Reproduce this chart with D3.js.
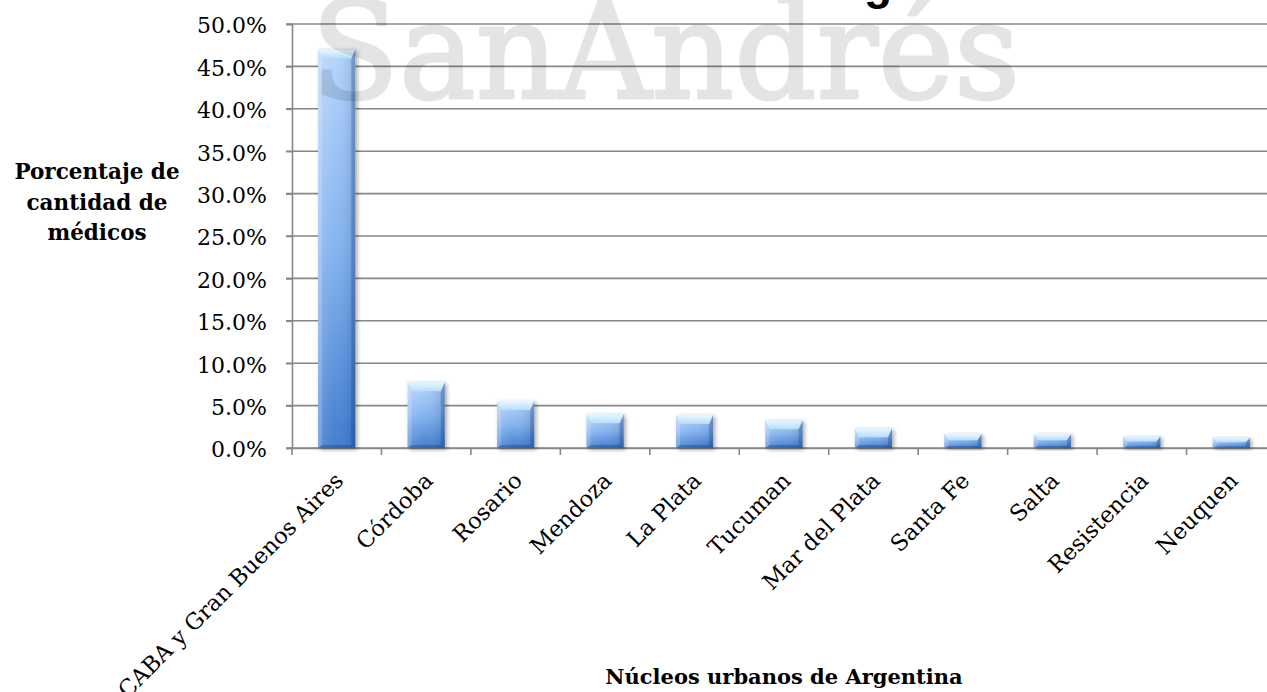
<!DOCTYPE html>
<html>
<head>
<meta charset="utf-8">
<script src="https://cdn.jsdelivr.net/npm/d3@7"></script>
<style>
  html, body { margin: 0; padding: 0; background: #ffffff; overflow: hidden; }
  svg { display: block; }
</style>
</head>
<body>
<svg id="chart" width="1267" height="692"></svg>
<script>
// Núcleos urbanos y su porcentaje de la cantidad total de médicos
const categories = [
  "CABA y Gran Buenos Aires", "Córdoba", "Rosario", "Mendoza", "La Plata",
  "Tucuman", "Mar del Plata", "Santa Fe", "Salta", "Resistencia", "Neuquen"
];
const porcentajes = [0.470, 0.0775, 0.0555, 0.0397, 0.0389, 0.0327, 0.0232, 0.0165, 0.0165, 0.0138, 0.0122];
const yTicks = [0, 0.05, 0.10, 0.15, 0.20, 0.25, 0.30, 0.35, 0.40, 0.45, 0.50];
const yTitleLines = ["Porcentaje de", "cantidad de", "médicos"];
const xTitle = "Núcleos urbanos de Argentina";
const chartTitle = "Distribución de médicos en Argentina";
const watermark = "SanAndrés";

const svg = d3.select("#chart");
const serif = "'DejaVu Serif', serif";
const gridColor = "#878787";

const x = d3.scaleBand()
  .domain(categories)
  .range([292, 1276])
  .paddingInner(0.585)
  .paddingOuter(0.2925);

const y = d3.scaleLinear().domain([0, 0.5]).range([448, 24]);

// ---------- gradients and shadow ----------
const defs = svg.append("defs");

const body = defs.append("linearGradient").attr("id", "barBody")
  .attr("x1", 0).attr("y1", 0).attr("x2", 0).attr("y2", 1);
body.append("stop").attr("offset", "0%").attr("stop-color", "#b2d3fb");
body.append("stop").attr("offset", "50%").attr("stop-color", "#7fb0ee");
body.append("stop").attr("offset", "100%").attr("stop-color", "#3a77cd");

const side = defs.append("linearGradient").attr("id", "barSide")
  .attr("x1", 0).attr("y1", 0).attr("x2", 1).attr("y2", 0);
side.append("stop").attr("offset", "0%").attr("stop-color", "#ffffff").attr("stop-opacity", 0.18);
side.append("stop").attr("offset", "45%").attr("stop-color", "#ffffff").attr("stop-opacity", 0.05);
side.append("stop").attr("offset", "100%").attr("stop-color", "#0b2f6b").attr("stop-opacity", 0.18);

const topBevel = defs.append("linearGradient").attr("id", "barTop")
  .attr("x1", 0).attr("y1", 0).attr("x2", 0).attr("y2", 1);
topBevel.append("stop").attr("offset", "0%").attr("stop-color", "#eaf8ff");
topBevel.append("stop").attr("offset", "100%").attr("stop-color", "#b6dcfb");

const shadow = defs.append("filter").attr("id", "barShadow")
  .attr("x", "-30%").attr("y", "-10%").attr("width", "170%").attr("height", "130%");
shadow.append("feDropShadow")
  .attr("dx", 2).attr("dy", 1.5).attr("stdDeviation", 2.2)
  .attr("flood-color", "#000").attr("flood-opacity", 0.35);

// ---------- gridlines ----------
svg.append("g")
  .selectAll("line")
  .data(yTicks)
  .join("line")
  .attr("x1", 286).attr("x2", 1267)
  .attr("y1", d => y(d)).attr("y2", d => y(d))
  .attr("stroke", gridColor).attr("stroke-width", 1.6);

// ---------- y axis ----------
const yAxis = svg.append("g")
  .attr("transform", "translate(292,0)")
  .call(d3.axisLeft(y).tickValues(yTicks).tickSize(6).tickPadding(8)
    .tickFormat(d => (d * 100).toFixed(1) + "%"));
yAxis.select(".domain").attr("stroke", gridColor).attr("stroke-width", 1.6);
yAxis.selectAll(".tick line").attr("stroke", gridColor).attr("stroke-width", 1.6);
yAxis.selectAll(".tick text")
  .attr("font-family", serif).attr("font-size", 22).attr("fill", "#000")
  .attr("x", -25).attr("dy", "0.4em");

// ---------- x axis ----------
const xAxis = svg.append("g")
  .attr("transform", "translate(0,448)")
  .call(d3.axisBottom(x).tickSize(0).tickSizeOuter(0));
xAxis.select(".domain").attr("stroke", gridColor).attr("stroke-width", 1.6);

// tick marks sit on the category boundaries
const gap = (x.step() - x.bandwidth()) / 2;
const boundaries = categories.map(c => x(c) - gap)
  .concat([x(categories[categories.length - 1]) + x.bandwidth() + gap]);
svg.append("g")
  .selectAll("line")
  .data(boundaries)
  .join("line")
  .attr("x1", d => d).attr("x2", d => d)
  .attr("y1", 448).attr("y2", 455)
  .attr("stroke", gridColor).attr("stroke-width", 1.6);

xAxis.selectAll(".tick text")
  .attr("font-family", serif).attr("font-size", 22.5).attr("fill", "#000")
  .attr("text-anchor", "end")
  .attr("x", 0).attr("y", 0)
  .attr("dy", 0)
  .attr("transform", "translate(8,34) rotate(-45)");

// ---------- bars ----------
const bars = svg.append("g")
  .selectAll("g")
  .data(categories.map((c, i) => ({ c, v: porcentajes[i] })))
  .join("g");

bars.each(function (d) {
  const g = d3.select(this);
  const bx = x(d.c), bw = x.bandwidth();
  const by = y(d.v), bh = y(0) - y(d.v);
  const t = Math.min(9, bh * 0.45);   // top bevel depth
  const s = Math.min(4, bw * 0.12);   // side bevel width
  const b = Math.min(3, bh * 0.15);   // bottom bevel depth

  g.append("rect")
    .attr("x", bx).attr("y", by).attr("width", bw).attr("height", bh)
    .attr("fill", "url(#barBody)").attr("filter", "url(#barShadow)");
  g.append("rect")
    .attr("x", bx).attr("y", by).attr("width", bw).attr("height", bh)
    .attr("fill", "url(#barSide)");
  // left edge highlight
  g.append("polygon")
    .attr("points", [[bx, by], [bx + s, by + t], [bx + s, by + bh - b], [bx, by + bh]].join(" "))
    .attr("fill", "#ffffff").attr("opacity", 0.18);
  // right edge shade
  g.append("polygon")
    .attr("points", [[bx + bw, by], [bx + bw - s, by + t], [bx + bw - s, by + bh - b], [bx + bw, by + bh]].join(" "))
    .attr("fill", "#123d7c").attr("opacity", 0.28);
  // bottom edge shade
  g.append("polygon")
    .attr("points", [[bx, by + bh], [bx + s, by + bh - b], [bx + bw - s, by + bh - b], [bx + bw, by + bh]].join(" "))
    .attr("fill", "#123d7c").attr("opacity", 0.35);
  // top bevel
  g.append("polygon")
    .attr("points", [[bx, by], [bx + bw, by], [bx + bw - s, by + t], [bx + s, by + t]].join(" "))
    .attr("fill", "url(#barTop)");
});

// ---------- axis titles ----------
svg.append("text")
  .attr("x", 97).attr("y", 179)
  .attr("font-family", serif).attr("font-size", 21.5).attr("font-weight", "bold")
  .attr("text-anchor", "middle").attr("fill", "#000")
  .selectAll("tspan")
  .data(yTitleLines)
  .join("tspan")
  .attr("x", 97)
  .attr("dy", (d, i) => i === 0 ? 0 : 30.5)
  .text(d => d);

svg.append("text")
  .attr("x", (292 + 1276) / 2).attr("y", 684)
  .attr("font-family", serif).attr("font-size", 21).attr("font-weight", "bold")
  .attr("text-anchor", "middle").attr("fill", "#000")
  .text(xTitle);

// ---------- chart title (mostly above the visible area) ----------
const title = svg.append("text")
  .attr("x", 0).attr("y", -1)
  .attr("font-family", "'Liberation Sans', Arial, sans-serif")
  .attr("font-size", 46).attr("font-weight", "bold").attr("fill", "#000")
  .text(chartTitle);
const gi = chartTitle.lastIndexOf("g");
const tn = title.node();
const gMid = (tn.getStartPositionOfChar(gi).x + tn.getEndPositionOfChar(gi).x) / 2;
title.attr("x", 878 - gMid);

// ---------- watermark ----------
svg.append("g")
  .attr("opacity", 0.1)
  .append("text")
  .attr("x", 311).attr("y", 98)
  .attr("font-family", serif).attr("font-size", 134)
  .attr("fill", "#000").attr("stroke", "#000").attr("stroke-width", 3)
  .attr("stroke-linejoin", "round")
  .attr("textLength", 709).attr("lengthAdjust", "spacingAndGlyphs")
  .text(watermark);
</script>
</body>
</html>
